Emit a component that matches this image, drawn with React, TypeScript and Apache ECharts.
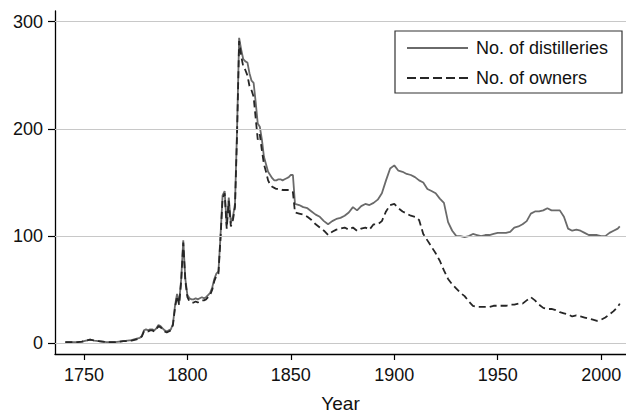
import React, { useEffect, useRef } from "react";
import * as echarts from "echarts";

const years = [
  1741, 1743, 1745, 1747, 1749, 1751, 1753, 1755, 1757, 1759, 1761, 1763, 1765, 1767, 1769, 1771, 1773, 1775, 1777,
  1778, 1779, 1780, 1781, 1782, 1783, 1784, 1785, 1786, 1787, 1788, 1789, 1790, 1791, 1792, 1793, 1794, 1795, 1796, 1797, 1798, 1799,
  1800, 1801, 1802, 1803, 1804, 1805, 1806, 1807, 1808, 1809, 1810, 1811, 1812, 1813, 1814, 1815, 1816, 1817, 1818, 1819, 1820, 1821, 1822, 1823, 1824, 1825,
  1826, 1827, 1828, 1829, 1830, 1831, 1832, 1833, 1834, 1835, 1836, 1837, 1838, 1839, 1840, 1841, 1842, 1843, 1844, 1845, 1846, 1847, 1848, 1849, 1850, 1851,
  1852, 1854, 1856, 1858, 1860, 1862, 1864, 1866, 1868, 1870, 1872, 1874, 1876, 1878, 1880, 1882, 1884, 1886, 1888, 1890, 1892, 1894, 1896, 1898, 1900,
  1902, 1904, 1906, 1908, 1910, 1912, 1914, 1916, 1918, 1920, 1922, 1924, 1926, 1928, 1930, 1932, 1934, 1936, 1938, 1940, 1942, 1944, 1946, 1948, 1950,
  1952, 1954, 1956, 1958, 1960, 1962, 1964, 1966, 1968, 1970, 1972, 1974, 1976, 1978, 1980, 1982, 1984, 1986, 1988, 1990, 1992, 1994, 1996, 1998, 2000, 2002, 2004, 2006, 2008, 2009,
];

const distilleries = [
  1, 1, 1, 1, 1.5, 2.5, 3.5, 2.5, 2, 1.5, 1, 1, 1, 1.5, 2, 2.5, 3, 4, 5,
  7, 12, 13, 12, 13, 13, 12, 14, 17, 16, 14, 12, 11, 12, 13, 18, 35, 46, 38, 60, 96, 60,
  45, 42, 41, 41, 42, 41, 42, 43, 42, 43, 45, 47, 52, 60, 65, 67, 100, 138, 142, 110, 136, 112, 118, 130, 200, 285,
  274, 265, 263, 262, 252, 245, 243, 225, 205, 202, 190, 174, 167, 160, 157, 154, 152, 152, 153, 153, 152, 153, 154, 155, 157, 157,
  130, 129, 127, 126, 123, 120, 118, 114, 111, 114, 116, 117, 119, 122, 127, 124, 128, 130, 129, 131, 134, 140, 152, 163, 166,
  161, 160, 158, 157, 155, 152, 150, 144, 142, 140, 135, 131, 113, 105, 100, 100, 99, 100, 102, 101, 100, 101, 101, 102, 103,
  103, 103, 104, 108, 109, 111, 114, 121, 123, 123, 124, 126, 124, 124, 124, 118, 107, 105, 106, 105, 103, 101, 101, 101, 100, 100, 103, 105, 107, 109,
];

const owners = [
  1, 1, 1, 1, 1.5, 2.5, 3.5, 2.5, 2, 1.5, 1, 1, 1, 1.5, 2, 2, 2.5, 3.5, 4.5,
  6.5, 11, 12, 11, 12, 12, 11, 13, 16, 15, 13, 11, 10, 11, 12, 17, 33, 44, 36, 58, 94, 58,
  43, 39, 38, 38, 39, 38, 39, 40, 40, 41, 43, 45, 50, 58, 63, 65, 98, 135, 140, 107, 133, 109, 115, 127, 195, 282,
  268, 258, 255, 250, 240, 236, 230, 210, 190, 195, 180, 167, 160, 152, 148, 146, 145, 144, 144, 144, 143, 143, 143, 143, 142, 141,
  122, 121, 120, 118, 115, 111, 108, 105, 101, 104, 106, 107, 108, 106, 108, 105, 107, 108, 106, 111, 111, 114, 123, 129, 130,
  126, 123, 121, 119, 118, 115, 102, 96, 90, 84, 77, 68, 60, 55, 51, 47, 44, 39, 35, 34, 34, 34, 34, 35, 35,
  35, 35, 36, 36, 37, 37, 40, 43, 40, 36, 33, 32, 32, 31, 29, 28, 27, 25, 26, 25, 24, 23, 22, 21, 22, 24, 27, 30, 34, 37,
];

const xTicks = [1750, 1800, 1850, 1900, 1950, 2000];
const yTicks = [0, 100, 200, 300];
const seriesNames = ["No. of distilleries", "No. of owners"];

const FONT = "'Liberation Sans', Arial, Helvetica, sans-serif";

export default function App() {
  const ref = useRef<HTMLDivElement>(null);

  useEffect(() => {
    if (!ref.current) return;
    const chart = echarts.init(ref.current, null, { renderer: "svg" });
    const dData = years.map((y, i) => [y, distilleries[i]]);
    const oData = years.map((y, i) => [y, owners[i]]);

    chart.setOption({
      animation: false,
      backgroundColor: "#ffffff",
      grid: { left: 55, right: 0, top: 11, bottom: 62, outerBoundsMode: "none", containLabel: false },
      xAxis: {
        type: "value",
        min: 1736,
        max: 2012,
        name: "Year",
        nameLocation: "middle",
        nameGap: 40,
        nameTextStyle: { fontFamily: FONT, fontSize: 19, color: "#111" },
        axisLine: { show: true, onZero: false, lineStyle: { color: "#000", width: 1.3 } },
        axisTick: { show: true, customValues: xTicks, length: 6, lineStyle: { color: "#000", width: 1.2 } },
        axisLabel: {
          customValues: xTicks,
          fontFamily: FONT,
          fontSize: 18,
          color: "#111",
          margin: 12,
          formatter: (v: number) => String(v),
        },
        splitLine: { show: false },
      },
      yAxis: {
        type: "value",
        min: -10,
        max: 310,
        axisLine: { show: true, onZero: false, lineStyle: { color: "#000", width: 1.3 } },
        axisTick: { show: true, customValues: yTicks, length: 7, lineStyle: { color: "#000", width: 1.2 } },
        axisLabel: {
          customValues: yTicks,
          fontFamily: FONT,
          fontSize: 18,
          color: "#111",
          margin: 12,
          formatter: (v: number) => String(v),
        },
        splitLine: { show: false },
      },
      series: [
        {
          type: "line",
          data: [],
          z: 1,
          silent: true,
          markLine: {
            silent: true,
            symbol: ["none", "none"],
            label: { show: false },
            lineStyle: { color: "#c8c8c8", type: "solid", width: 1.2 },
            data: yTicks.map((v) => ({ yAxis: v })),
          },
        },
        {
          name: seriesNames[0],
          type: "line",
          data: dData,
          showSymbol: false,
          z: 2,
          lineStyle: { color: "#6a6a6a", width: 1.8 },
        },
        {
          name: seriesNames[1],
          type: "line",
          data: oData,
          showSymbol: false,
          z: 3,
          lineStyle: { color: "#262626", width: 1.8, type: [7, 4] },
        },
      ],
      graphic: [
        {
          type: "rect",
          shape: { x: 395, y: 31, width: 227, height: 62 },
          style: { fill: "#fff", stroke: "#333", lineWidth: 1.2 },
          z: 10,
        },
        {
          type: "line",
          shape: { x1: 407, y1: 48, x2: 468, y2: 48 },
          style: { stroke: "#6a6a6a", lineWidth: 1.8 },
          z: 11,
        },
        {
          type: "line",
          shape: { x1: 407, y1: 78, x2: 468, y2: 78 },
          style: { stroke: "#262626", lineWidth: 1.8, lineDash: [9, 4] },
          z: 11,
        },
        {
          type: "text",
          x: 476,
          y: 48,
          style: { text: seriesNames[0], fontFamily: FONT, fontSize: 18, fill: "#111", verticalAlign: "middle" },
          z: 11,
        },
        {
          type: "text",
          x: 476,
          y: 78,
          style: { text: seriesNames[1], fontFamily: FONT, fontSize: 18, fill: "#111", verticalAlign: "middle" },
          z: 11,
        },
      ],
    });
    return () => chart.dispose();
  }, []);

  return (
    <div
      ref={ref}
      style={{ position: "absolute", left: 0, top: 0, width: 626, height: 416 }}
    />
  );
}
